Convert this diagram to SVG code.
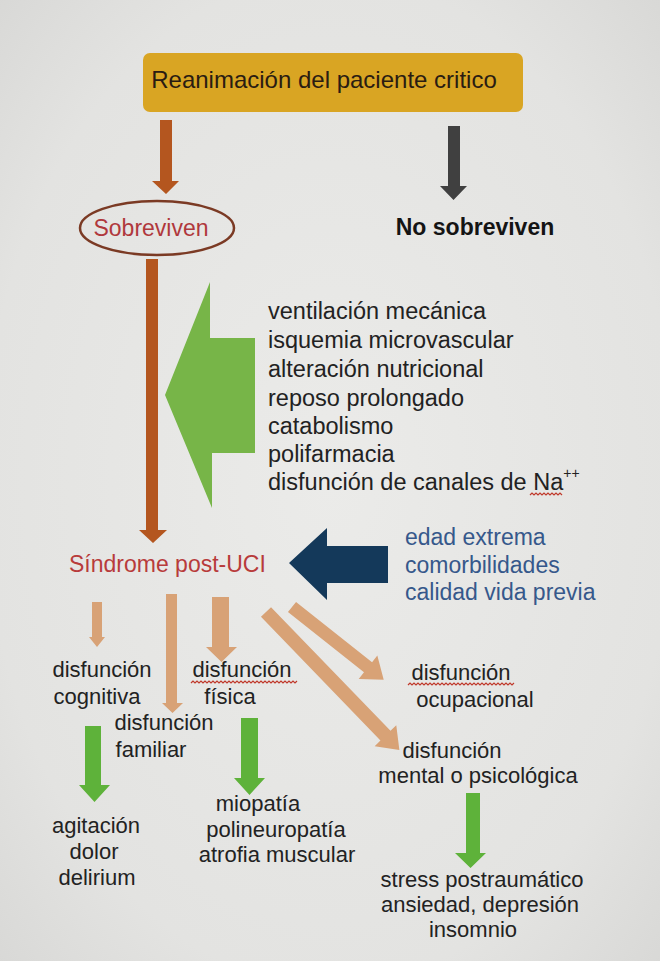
<svg xmlns="http://www.w3.org/2000/svg" width="660" height="961" viewBox="0 0 660 961">
  <defs>
    <radialGradient id="bg" cx="0.5" cy="0.5" r="0.75">
      <stop offset="0" stop-color="#ebebe9"/>
      <stop offset="0.7" stop-color="#e3e3e1"/>
      <stop offset="1" stop-color="#d6d6d4"/>
    </radialGradient>
  </defs>
  <style>
    text { font-family: "Liberation Sans", Arial, sans-serif; }
    .dark { fill: #222222; }
    .list { font-size: 23.5px; fill: #222222; }
    .low { font-size: 22px; fill: #222222; text-anchor: middle; }
    .blue { font-size: 23px; fill: #36588b; }
    .orange { fill: #b4561f; }
    .grey { fill: #404040; }
    .green { fill: #77b548; }
    .green2 { fill: #5eb23a; }
    .navy { fill: #14395a; }
    .tan { fill: #d8a276; }
    .wavy { fill: none; stroke: #c0392b; stroke-width: 1.2; }
  </style>
  <rect width="660" height="961" fill="url(#bg)"/>

  <g id="connectors">
    <path class="orange" d="M160,120 H172 V181 H179 L166,194 L152,181 H160 Z"/>
    <path class="grey" d="M448,126 H460 V186 H467 L453.5,200 L440,186 H448 Z"/>
    <path class="orange" d="M146,259 H158 V530 H167 L153,543 L139,530 H146 Z"/>
    <path class="green" d="M255,338 V453 H212 V508 L165,395 L210,282 V338 Z"/>
    <path class="navy" d="M388,546 V583 H327 V600 L289,563 L327,528 V546 Z"/>
    <path class="tan" d="M92,602 H102 V637 H105 L97,647 L89,637 H92 Z"/>
    <path class="tan" d="M166,594 H177 V703 H183 L172.5,713 L162,703 H166 Z"/>
    <path class="tan" d="M212,597 H229 V647 H237 L221.5,662 L206,647 H212 Z"/>
    <path class="tan" transform="translate(292,607) rotate(38.4)" d="M0,-6.5 H97 V-15 L117,0 L97,15 V6.5 H0 Z"/>
    <path class="tan" transform="translate(266,612) rotate(46)" d="M0,-7 H172 V-15 L192,0 L172,15 V7 H0 Z"/>
    <path class="green2" d="M85,726 H101 V785 H110 L94.5,802 L79,785 H85 Z"/>
    <path class="green2" d="M241,718 H258 V778 H265 L249.5,795 L234,778 H241 Z"/>
    <path class="green2" d="M466,793 H480 V853 H486 L470.5,868 L455,853 H466 Z"/>
  </g>

  <g id="reanimacion">
    <rect x="143" y="53" width="380" height="59" rx="7" fill="#d9a523"/>
    <text x="324" y="88" font-size="24" fill="#2a1c12" text-anchor="middle">Reanimación del paciente critico</text>
  </g>

  <g id="sobreviven">
    <ellipse cx="157" cy="228" rx="77" ry="27" fill="none" stroke="#7b3a24" stroke-width="2.5"/>
    <text x="151" y="236" font-size="23" fill="#b0383c" text-anchor="middle">Sobreviven</text>
  </g>

  <g id="no-sobreviven">
    <text x="475" y="235" font-size="23" font-weight="bold" fill="#141414" text-anchor="middle">No sobreviven</text>
  </g>

  <g id="factores">
    <text class="list" x="268" y="319">ventilación mecánica</text>
    <text class="list" x="268" y="348">isquemia microvascular</text>
    <text class="list" x="268" y="377">alteración nutricional</text>
    <text class="list" x="268" y="406">reposo prolongado</text>
    <text class="list" x="268" y="434">catabolismo</text>
    <text class="list" x="268" y="462">polifarmacia</text>
    <text class="list" x="268" y="490">disfunción de canales de Na<tspan font-size="14" dy="-12">++</tspan></text>
    <path class="wavy" d="M530,495 l2,-2 l2,2 l2,-2 l2,2 l2,-2 l2,2 l2,-2 l2,2 l2,-2 l2,2 l2,-2 l2,2 l2,-2 l2,2 l2,-2 l2,2"/>
  </g>

  <g id="sindrome">
    <text x="69" y="572" font-size="23" fill="#b83b3b">Síndrome post-UCI</text>
  </g>

  <g id="riesgo">
    <text class="blue" x="405" y="545">edad extrema</text>
    <text class="blue" x="405" y="573">comorbilidades</text>
    <text class="blue" x="405" y="600">calidad vida previa</text>
  </g>

  <g id="cognitiva">
    <text class="low" x="102" y="677">disfunción</text>
    <text class="low" x="97" y="704">cognitiva</text>
  </g>

  <g id="fisica">
    <text class="low" x="242" y="677">disfunción</text>
    <text class="low" x="230" y="704">física</text>
    <path class="wavy" d="M191,683 l2,-2 l2,2 l2,-2 l2,2 l2,-2 l2,2 l2,-2 l2,2 l2,-2 l2,2 l2,-2 l2,2 l2,-2 l2,2 l2,-2 l2,2 l2,-2 l2,2 l2,-2 l2,2 l2,-2 l2,2 l2,-2 l2,2 l2,-2 l2,2 l2,-2 l2,2 l2,-2 l2,2 l2,-2 l2,2 l2,-2 l2,2 l2,-2 l2,2 l2,-2 l2,2 l2,-2 l2,2 l2,-2 l2,2 l2,-2 l2,2 l2,-2 l2,2 l2,-2 l2,2 l2,-2 l2,2 l2,-2 l2,2 l2,-2"/>
  </g>

  <g id="familiar">
    <text class="low" x="164" y="730">disfunción</text>
    <text class="low" x="151" y="757">familiar</text>
  </g>

  <g id="ocupacional">
    <text class="low" x="461" y="680">disfunción</text>
    <text class="low" x="475" y="707">ocupacional</text>
    <path class="wavy" d="M408,685 l2,-2 l2,2 l2,-2 l2,2 l2,-2 l2,2 l2,-2 l2,2 l2,-2 l2,2 l2,-2 l2,2 l2,-2 l2,2 l2,-2 l2,2 l2,-2 l2,2 l2,-2 l2,2 l2,-2 l2,2 l2,-2 l2,2 l2,-2 l2,2 l2,-2 l2,2 l2,-2 l2,2 l2,-2 l2,2 l2,-2 l2,2 l2,-2 l2,2 l2,-2 l2,2 l2,-2 l2,2 l2,-2 l2,2 l2,-2 l2,2 l2,-2 l2,2 l2,-2 l2,2 l2,-2 l2,2 l2,-2 l2,2 l2,-2"/>
  </g>

  <g id="mental">
    <text class="low" x="452" y="758">disfunción</text>
    <text class="low" x="478" y="783">mental o psicológica</text>
  </g>

  <g id="sintomas-cognitiva">
    <text class="low" x="96" y="833">agitación</text>
    <text class="low" x="94" y="859">dolor</text>
    <text class="low" x="97" y="885">delirium</text>
  </g>

  <g id="sintomas-fisica">
    <text class="low" x="258" y="811">miopatía</text>
    <text class="low" x="276" y="837">polineuropatía</text>
    <text class="low" x="277" y="862">atrofia muscular</text>
  </g>

  <g id="sintomas-mental">
    <text class="low" x="482" y="887">stress postraumático</text>
    <text class="low" x="480" y="912">ansiedad, depresión</text>
    <text class="low" x="473" y="937">insomnio</text>
  </g>
</svg>
